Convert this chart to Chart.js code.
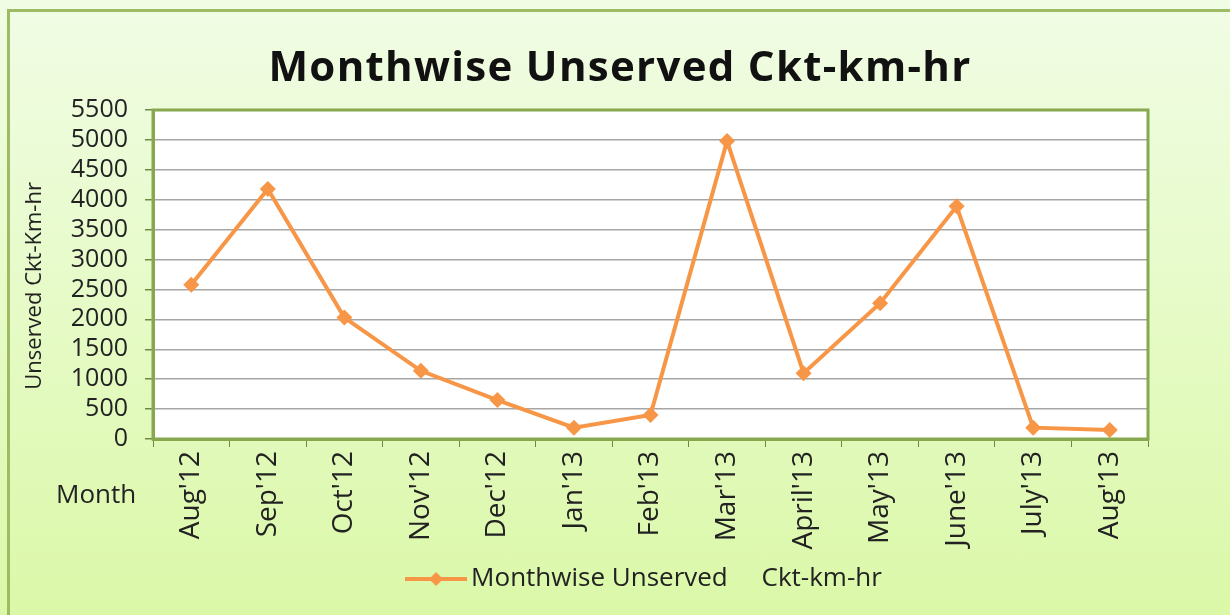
<!DOCTYPE html>
<html>
<head>
<meta charset="utf-8">
<script src="https://cdn.jsdelivr.net/npm/chart.js@4"></script>
<style>
  html, body { margin: 0; padding: 0; }
  body { width: 1230px; height: 615px; overflow: hidden; background: #ffffff; }
  #wrap {
    position: relative; width: 1230px; height: 615px;
    background: linear-gradient(to bottom, #f1fce5 0%, #e8fbcd 40%, #dbf8a8 100%);
  }
  #frame {
    position: absolute; left: 7px; top: 9px; width: 1223px; height: 606px;
    border: 3px solid #9dbb63; border-right: none; border-bottom: none;
    box-sizing: border-box; pointer-events: none;
  }
  #title {
    position: absolute; left: 0; width: 1240px; top: 37px; text-align: center;
    font-family: "Open Sans", sans-serif; font-weight: bold; font-size: 42px;
    letter-spacing: 1.3px; line-height: 56px; color: #111;
  }
  #month {
    position: absolute; left: 56px; top: 475px;
    font-family: "Open Sans", sans-serif; font-size: 26px; color: #222;
  }
  canvas { position: absolute; left: 0; top: 0; }
</style>
</head>
<body>
<div id="wrap">
  <div id="frame"></div>
  <canvas id="chart" width="1230" height="615"></canvas>
  <div id="title">Monthwise Unserved Ckt-km-hr</div>
  <div id="month">Month</div>
</div>
<script>
// chart data
const months = ["Aug'12", "Sep'12", "Oct'12", "Nov'12", "Dec'12", "Jan'13", "Feb'13",
  "Mar'13", "April'13", "May'13", "June'13", "July'13", "Aug'13"];
const unserved = [2580, 4180, 2030, 1140, 650, 190, 400, 4980, 1100, 2270, 3890, 190, 150];
const seriesName = 'Monthwise Unserved     Ckt-km-hr';

const ORANGE = '#f79646';
const AXIS_GREEN = '#86a84e';

// legend swatch: short line with a diamond in the middle
function legendSwatch() {
  const c = document.createElement('canvas');
  c.width = 62; c.height = 18;
  const g = c.getContext('2d');
  g.strokeStyle = ORANGE; g.lineWidth = 4;
  g.beginPath(); g.moveTo(0, 9); g.lineTo(62, 9); g.stroke();
  g.fillStyle = ORANGE;
  g.beginPath(); g.moveTo(31, 2); g.lineTo(38, 9); g.lineTo(31, 16); g.lineTo(24, 9); g.closePath(); g.fill();
  return c;
}

// white plot background and green frame around chart area
const plotFrame = {
  id: 'plotFrame',
  afterLayout(chart) {
    // the reference legend sits right of the plot centre
    const lg = chart.legend;
    if (lg) { lg.left += 64; lg.right += 64; }
  },
  beforeDraw(chart) {
    const { ctx, chartArea: a } = chart;
    ctx.save();
    ctx.fillStyle = '#ffffff';
    ctx.fillRect(a.left, a.top, a.right - a.left, a.bottom - a.top);
    ctx.restore();
  },
  afterDatasetsDraw(chart) {
    const { ctx, chartArea: a } = chart;
    ctx.save();
    ctx.strokeStyle = AXIS_GREEN;
    ctx.lineWidth = 3;
    ctx.strokeRect(a.left, a.top, a.right - a.left, a.bottom - a.top);
    ctx.restore();
  }
};

const swatch = legendSwatch();

new Chart(document.getElementById('chart'), {
  type: 'line',
  data: {
    labels: months,
    datasets: [{
      label: seriesName,
      data: unserved,
      borderColor: ORANGE,
      backgroundColor: ORANGE,
      borderWidth: 4,
      pointStyle: 'rectRot',
      pointRadius: 8,
      pointBorderWidth: 0,
      tension: 0
    }]
  },
  options: {
    responsive: false,
    animation: false,
    layout: { padding: { top: 110, left: 20, right: 82, bottom: 13 } },
    plugins: {
      title: { display: false },
      legend: {
        position: 'bottom',
        labels: {
          color: '#222',
          font: { family: 'Open Sans', size: 26 },
          usePointStyle: true,
          pointStyleWidth: 44,
          boxHeight: 18,
          padding: 9,
          generateLabels: () => [{
            text: seriesName,
            pointStyle: swatch,
            fillStyle: ORANGE,
            strokeStyle: ORANGE,
            lineWidth: 0,
            fontColor: '#222',
            datasetIndex: 0
          }]
        }
      },
      tooltip: { enabled: false }
    },
    scales: {
      x: {
        offset: true,
        grid: { display: true, drawOnChartArea: false, offset: true, tickLength: 8, tickColor: '#6e8a42' },
        border: { color: AXIS_GREEN, width: 3 },
        ticks: {
          color: '#222',
          font: { family: 'Open Sans', size: 28 },
          minRotation: 90, maxRotation: 90, padding: 4
        },
        afterFit(scale) { scale.height = 118; }
      },
      y: {
        min: 0, max: 5500,
        ticks: {
          stepSize: 500, color: '#222', autoSkip: false,
          font: { family: 'Open Sans', size: 25, lineHeight: 1 }, padding: 17,
          callback: (v) => String(v)
        },
        grid: { color: '#a6a6a6', lineWidth: 1.5, tickLength: 8, tickColor: '#6e8a42' },
        border: { color: AXIS_GREEN, width: 3 },
        title: {
          display: true, text: 'Unserved Ckt-Km-hr    ', color: '#222',
          font: { family: 'Open Sans', size: 22 }, padding: 2
        },
        afterFit(scale) { scale.width = 133; }
      }
    }
  },
  plugins: [plotFrame]
});
</script>
</body>
</html>
